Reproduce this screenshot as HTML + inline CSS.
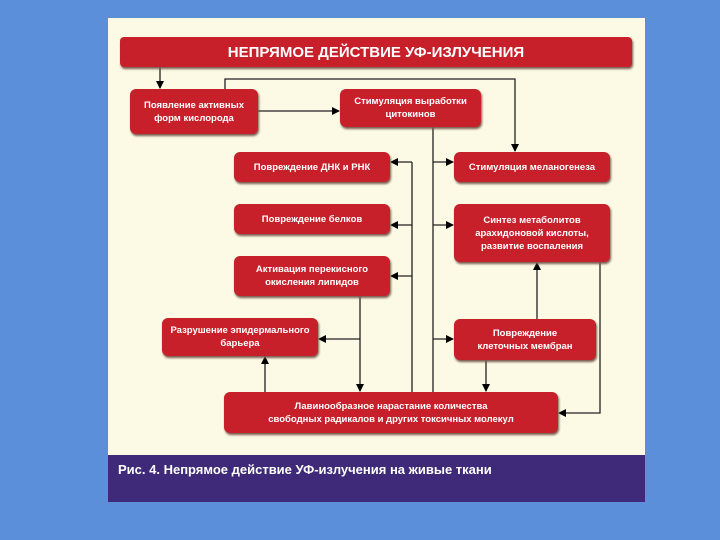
<!DOCTYPE html>
<html><head><meta charset="utf-8"><style>
body{margin:0;width:720px;height:540px;background:#5b8fd9;position:relative;overflow:hidden;font-family:"Liberation Sans","DejaVu Sans",sans-serif}
#panel{position:absolute;left:108px;top:18px;width:537px;height:484px;background:#fcfae4}
#band{position:absolute;left:108px;top:455px;width:537px;height:47px;background:#3e2a78}
.b{position:absolute;background:#c8202a;border-radius:6px;box-shadow:1px 2px 2px #7a5a50;color:#fff;font-weight:bold;font-size:9.5px;display:flex;align-items:center;justify-content:center;text-align:center;line-height:13px}
#cap{position:absolute;left:118px;top:462px;color:#fff;font-weight:bold;font-size:13px}
svg{position:absolute;left:0;top:0}
</style></head><body>
<div id="panel"></div><div id="band"></div>
<svg width="720" height="540">
<defs><marker id="a" markerWidth="8" markerHeight="8" refX="7" refY="4" orient="auto" markerUnits="userSpaceOnUse"><path d="M0,0L8,4L0,8z" fill="#000"/></marker></defs>
<g stroke="#222" stroke-width="1.3" fill="none">
<path d="M160,67V88" marker-end="url(#a)"/>
<path d="M225,89V79H515V151" marker-end="url(#a)"/>
<path d="M258,111H339" marker-end="url(#a)"/>
<path d="M433,127V392"/>
<path d="M433,162H453" marker-end="url(#a)"/>
<path d="M433,225H453" marker-end="url(#a)"/>
<path d="M433,339H453" marker-end="url(#a)"/>
<path d="M412,162V392"/>
<path d="M412,162H391" marker-end="url(#a)"/>
<path d="M412,225H391" marker-end="url(#a)"/>
<path d="M412,276H391" marker-end="url(#a)"/>
<path d="M360,296V391" marker-end="url(#a)"/>
<path d="M360,339H319" marker-end="url(#a)"/>
<path d="M265,392V357" marker-end="url(#a)"/>
<path d="M486,360V391" marker-end="url(#a)"/>
<path d="M537,319V263" marker-end="url(#a)"/>
<path d="M600,262V413H559" marker-end="url(#a)"/>
</g></svg>
<div class="b" style="left:120px;top:37px;width:512px;height:30px;font-size:15px;border-radius:4px">НЕПРЯМОЕ ДЕЙСТВИЕ УФ-ИЗЛУЧЕНИЯ</div>
<div class="b" style="left:130px;top:89px;width:128px;height:45px">Появление активных<br>форм кислорода</div>
<div class="b" style="left:340px;top:89px;width:141px;height:38px">Стимуляция выработки<br>цитокинов</div>
<div class="b" style="left:234px;top:152px;width:156px;height:30px">Повреждение ДНК и РНК</div>
<div class="b" style="left:454px;top:152px;width:156px;height:30px">Стимуляция меланогенеза</div>
<div class="b" style="left:234px;top:204px;width:156px;height:30px">Повреждение белков</div>
<div class="b" style="left:454px;top:204px;width:156px;height:58px">Синтез метаболитов<br>арахидоновой кислоты,<br>развитие воспаления</div>
<div class="b" style="left:234px;top:256px;width:156px;height:40px">Активация перекисного<br>окисления липидов</div>
<div class="b" style="left:162px;top:318px;width:156px;height:38px">Разрушение эпидермального<br>барьера</div>
<div class="b" style="left:454px;top:319px;width:142px;height:41px">Повреждение<br>клеточных мембран</div>
<div class="b" style="left:224px;top:392px;width:334px;height:41px">Лавинообразное нарастание количества<br>свободных радикалов и других токсичных молекул</div>
<div id="cap">Рис. 4. Непрямое действие УФ-излучения на живые ткани</div>
</body></html>
